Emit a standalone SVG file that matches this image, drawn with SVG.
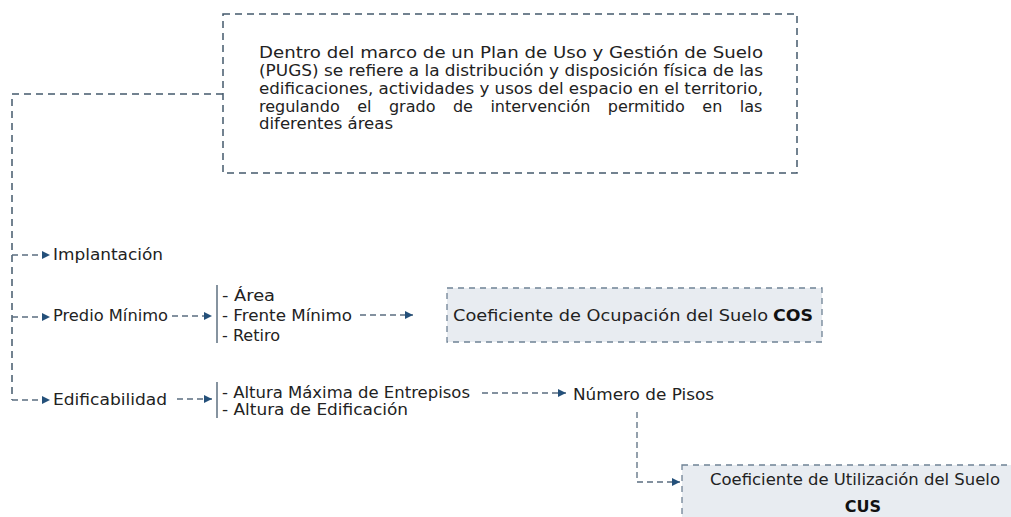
<svg xmlns="http://www.w3.org/2000/svg" width="1011" height="517" viewBox="0 0 1011 517">
<style>
.t{font-family:"DejaVu Sans","Liberation Sans",sans-serif;font-size:16px;fill:#222}
.b{font-weight:bold;fill:#111}
.d{fill:none;stroke:#44596c;stroke-width:1.5;stroke-dasharray:7 5}
.a{fill:none;stroke:#5b6e80;stroke-width:1.3;stroke-dasharray:6 4}
.s{fill:none;stroke:#44596c;stroke-width:1.3}
.box{fill:#e8ecf1;stroke:#6f8295;stroke-width:1.3;stroke-dasharray:6 5}
</style>
<defs>
<marker id="ar" markerUnits="userSpaceOnUse" markerWidth="9" markerHeight="9" refX="8" refY="4.5" orient="auto">
<path d="M0,0.5 L8,4.5 L0,8.5 z" fill="#24507a"/>
</marker>
</defs>
<rect width="1011" height="517" fill="#fff"/>
<g id="connectors">
<path class="d" d="M223,94 H12 V400"/>
<path class="a" d="M12,255 H50" marker-end="url(#ar)"/>
<path class="a" d="M12,317 H50" marker-end="url(#ar)"/>
<path class="a" d="M12,400 H50" marker-end="url(#ar)"/>
<path class="a" d="M172,316 H212" marker-end="url(#ar)"/>
<path class="a" d="M177,399 H212" marker-end="url(#ar)"/>
<path class="a" d="M360,315 H413" marker-end="url(#ar)"/>
<path class="a" d="M482,393 H566" marker-end="url(#ar)"/>
<path class="a" d="M637,412 V482 H680" marker-end="url(#ar)"/>
</g>
<g id="description">
<rect class="d" x="223" y="14" width="574" height="159" fill="none"/>
<text class="t" x="259" y="58" textLength="504" lengthAdjust="spacingAndGlyphs">Dentro del marco de un Plan de Uso y Gestión de Suelo</text>
<text class="t" x="259" y="76" textLength="504" lengthAdjust="spacingAndGlyphs">(PUGS) se refiere a la distribución y disposición física de las</text>
<text class="t" x="259" y="94" textLength="504" lengthAdjust="spacingAndGlyphs">edificaciones, actividades y usos del espacio en el territorio,</text>
<text class="t" x="259" y="112" word-spacing="12.4">regulando el grado de intervención permitido en las</text>
<text class="t" x="259" y="129" textLength="134" lengthAdjust="spacingAndGlyphs">diferentes áreas</text>
</g>
<g id="implantacion">
<text class="t" x="53" y="260" textLength="110" lengthAdjust="spacingAndGlyphs">Implantación</text>
</g>
<g id="predio-minimo">
<text class="t" x="53" y="321" textLength="115" lengthAdjust="spacingAndGlyphs">Predio Mínimo</text>
</g>
<g id="predio-items">
<line class="s" x1="217" y1="285" x2="217" y2="343"/>
<text class="t" x="222" y="301" textLength="53" lengthAdjust="spacingAndGlyphs">- Área</text>
<text class="t" x="222" y="321" textLength="130" lengthAdjust="spacingAndGlyphs">- Frente Mínimo</text>
<text class="t" x="222" y="341" textLength="58" lengthAdjust="spacingAndGlyphs">- Retiro</text>
</g>
<g id="cos">
<rect class="box" x="447" y="288" width="375" height="54"/>
<text class="t" x="453" y="321" textLength="315" lengthAdjust="spacingAndGlyphs">Coeficiente de Ocupación del Suelo</text>
<text class="t b" x="773" y="321" font-size="18" textLength="40" lengthAdjust="spacingAndGlyphs">COS</text>
</g>
<g id="edificabilidad">
<text class="t" x="53" y="405" textLength="114" lengthAdjust="spacingAndGlyphs">Edificabilidad</text>
</g>
<g id="edificabilidad-items">
<line class="s" x1="217" y1="382" x2="217" y2="418"/>
<text class="t" x="222" y="398" textLength="248" lengthAdjust="spacingAndGlyphs">- Altura Máxima de Entrepisos</text>
<text class="t" x="222" y="415" textLength="186" lengthAdjust="spacingAndGlyphs">- Altura de Edificación</text>
</g>
<g id="numero-pisos">
<text class="t" x="573" y="400" textLength="141" lengthAdjust="spacingAndGlyphs">Número de Pisos</text>
</g>
<g id="cus">
<rect class="box" x="682" y="465" width="345" height="70"/>
<text class="t" x="710" y="485" textLength="290" lengthAdjust="spacingAndGlyphs">Coeficiente de Utilización del Suelo</text>
<text class="t b" x="863" y="512" font-size="18" text-anchor="middle">CUS</text>
</g>
</svg>
